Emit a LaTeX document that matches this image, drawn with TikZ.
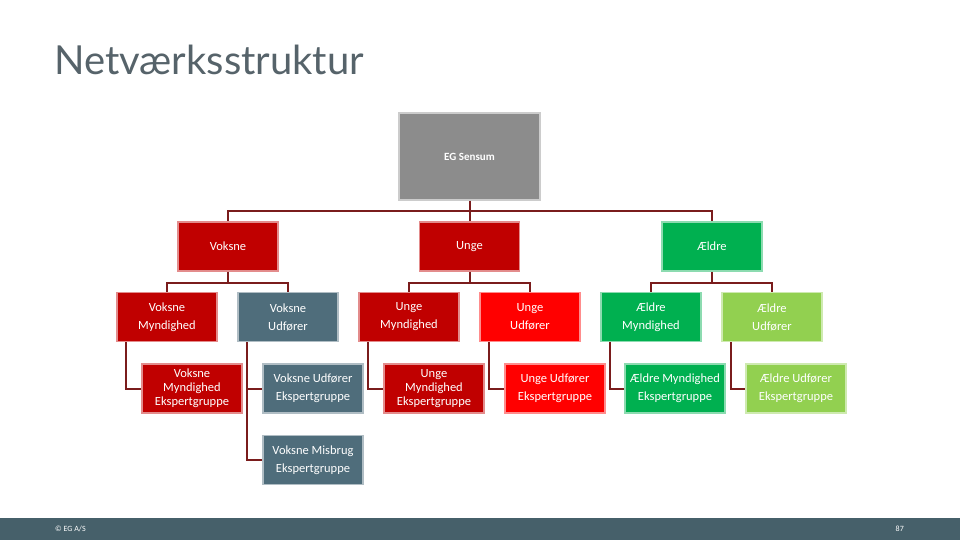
\documentclass[tikz,border=0pt]{standalone}
\usepackage{fontspec}
\setmainfont{Carlito}
\newfontfamily\titlefont{Lato}
\usetikzlibrary{positioning, calc}
\definecolor{egred}{HTML}{C00000}
\definecolor{egbright}{HTML}{FF0000}
\definecolor{egslate}{HTML}{4F6D7B}
\definecolor{eggreen}{HTML}{00B050}
\definecolor{eglime}{HTML}{92D050}
\definecolor{eggray}{HTML}{8C8C8C}
\definecolor{egline}{HTML}{7A1C1C}
\definecolor{egfoot}{HTML}{46606A}
\definecolor{egtitle}{HTML}{56636A}

\begin{document}
\begin{tikzpicture}[x=1pt, y=-1pt,
  unit/.style={draw=#1!45!white, fill=#1, line width=1.5pt, text=white, minimum width=100pt, minimum height=49pt,
    inner sep=0pt, align=center, font=\fontsize{12.5}{18}\selectfont},
  grp/.style={unit=#1, font=\fontsize{12.5}{14}\selectfont},
  link/.style={draw=egline, line width=2pt}]
\useasboundingbox (0,0) rectangle (960,540);
% title
\node[anchor=base west, inner sep=0pt, text=egtitle, font=\titlefont\fontsize{40}{40}\selectfont] (title) at (54,75) {Netværksstruktur};
% top of the tree
\node[unit=eggray, draw=gray!40, minimum width=141pt, minimum height=87pt, font=\bfseries\fontsize{11}{12}\selectfont] (sensum) at (469.5,156.5) {EG Sensum};
\node[unit=egred]   (voksne) at (228,246.5)   {Voksne};
\node[unit=egred]   (unge)   at (469.5,246.5) {Unge};
\node[unit=eggreen] (aeldre) at (712,246.5)   {Ældre};
% second row
\node[unit=egred]    (vm) at (167,317) {Voksne\\Myndighed};
\node[unit=egslate]  (vu) at (288,317) {Voksne\\Udfører};
\node[unit=egred]    (um) at (409,317) {Unge\\Myndighed};
\node[unit=egbright] (uu) at (530,317) {Unge\\Udfører};
\node[unit=eggreen]  (am) at (651,317) {Ældre\\Myndighed};
\node[unit=eglime]   (au) at (772,317) {Ældre\\Udfører};
% expert groups
\node[grp=egred]    (vme) at (192,388.5) {Voksne\\Myndighed\\Ekspertgruppe};
\node[unit=egslate] (vue) at (313,388.5) {Voksne Udfører\\Ekspertgruppe};
\node[unit=egslate] (vmb) at (313,460)   {Voksne Misbrug\\Ekspertgruppe};
\node[grp=egred]    (ume) at (434,388.5) {Unge\\Myndighed\\Ekspertgruppe};
\node[unit=egbright](uue) at (555,388.5) {Unge Udfører\\Ekspertgruppe};
\node[unit=eggreen] (ame) at (675,388.5) {Ældre Myndighed\\Ekspertgruppe};
\node[unit=eglime]  (aue) at (796,388.5) {Ældre Udfører\\Ekspertgruppe};
% connectors
\foreach \c in {voksne, unge, aeldre}
  \draw[link] (sensum.south) -- ++(0,10) -| (\c.north);
\foreach \p/\l/\r in {voksne/vm/vu, unge/um/uu, aeldre/am/au} {
  \draw[link] (\p.south) -- ++(0,11) -| (\l.north);
  \draw[link] (\p.south) -- ++(0,11) -| (\r.north);
}
\foreach \p/\c in {vm/vme, vu/vue, vu/vmb, um/ume, uu/uue, am/ame, au/aue}
  \draw[link] ([xshift=10pt]\p.south west) |- (\c.west);
% footer
\fill[egfoot] (0,518) rectangle (960,540);
\node[anchor=west, text=white, inner sep=0pt, font=\fontsize{8}{8}\selectfont] (copy) at (55,529) {© EG A/S};
\node[anchor=east, text=white, inner sep=0pt, font=\fontsize{8}{8}\selectfont] (page) at (904,529) {87};
\end{tikzpicture}
\end{document}
